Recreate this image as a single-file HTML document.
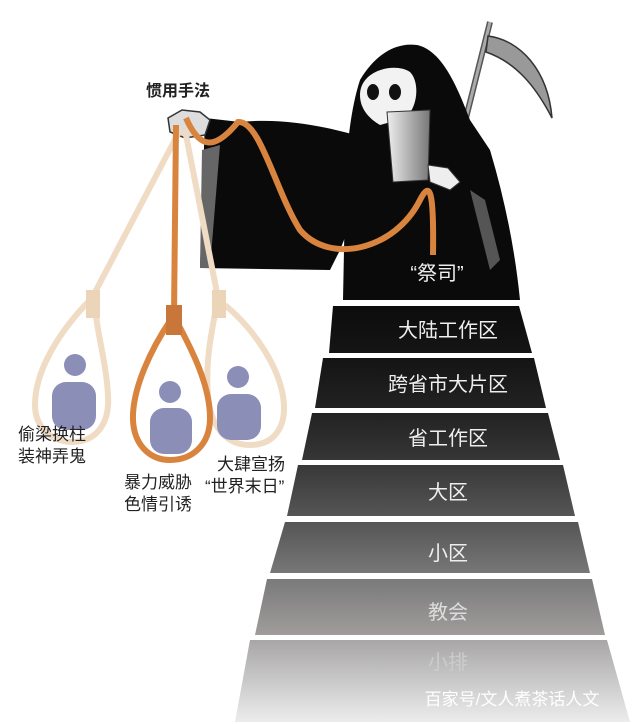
<!DOCTYPE html>
<html><head><meta charset="utf-8"><style>
html,body{margin:0;padding:0;background:#fff;}
body{width:640px;height:724px;overflow:hidden;position:relative;font-family:"Liberation Sans","Noto Sans CJK SC",sans-serif;}
</style></head><body>
<svg width="640" height="724" viewBox="0 0 640 724" xmlns="http://www.w3.org/2000/svg" style="position:absolute;left:0;top:0">
<defs>
<linearGradient id="g2" x1="0" y1="0" x2="0" y2="1"><stop offset="0" stop-color="#0c0c0c"/><stop offset="1" stop-color="#151515"/></linearGradient>
<linearGradient id="g3" x1="0" y1="0" x2="0" y2="1"><stop offset="0" stop-color="#141414"/><stop offset="1" stop-color="#222"/></linearGradient>
<linearGradient id="g4" x1="0" y1="0" x2="0" y2="1"><stop offset="0" stop-color="#222"/><stop offset="1" stop-color="#363636"/></linearGradient>
<linearGradient id="g5" x1="0" y1="0" x2="0" y2="1"><stop offset="0" stop-color="#383838"/><stop offset="1" stop-color="#555"/></linearGradient>
<linearGradient id="g6" x1="0" y1="0" x2="0" y2="1"><stop offset="0" stop-color="#555"/><stop offset="1" stop-color="#777"/></linearGradient>
<linearGradient id="g7" x1="0" y1="0" x2="0" y2="1"><stop offset="0" stop-color="#7a7a7a"/><stop offset="1" stop-color="#a09c9c"/></linearGradient>
<linearGradient id="g8" x1="0" y1="0" x2="0" y2="1"><stop offset="0" stop-color="#a8a6a6"/><stop offset="1" stop-color="#ececec"/></linearGradient>
<linearGradient id="book" x1="0" y1="0" x2="1" y2="0"><stop offset="0" stop-color="#eee"/><stop offset="1" stop-color="#777"/></linearGradient>
</defs>
<!-- pyramid -->
<polygon points="333,306 519,306 532,353 329,353" fill="url(#g2)"/>
<polygon points="323,358 534,358 546,408 315,408" fill="url(#g3)"/>
<polygon points="312,413 548,413 560,460 302,460" fill="url(#g4)"/>
<polygon points="298,465 563,465 575,516 287,516" fill="url(#g5)"/>
<polygon points="285,522 578,522 590,573 270,573" fill="url(#g6)"/>
<polygon points="267,579 592,579 605,635 255,635" fill="url(#g7)"/>
<polygon points="250,640 607,640 630,722 235,722" fill="url(#g8)"/>
<!-- scythe -->
<line x1="490" y1="22" x2="458" y2="150" stroke="#555" stroke-width="6"/>
<line x1="490" y1="22" x2="458" y2="150" stroke="#aaa" stroke-width="3"/>
<path d="M488,36 C520,40 548,70 552,118 C535,85 515,62 486,52 Z" fill="#999" stroke="#333" stroke-width="1.5"/>
<!-- cloak -->
<path d="M360,80 C375,55 395,42 417,45 C440,50 455,80 470,120 L490,150 C505,200 515,250 520,300 L343,300 L345,200 C345,160 350,110 360,80 Z" fill="#0a0a0a"/>
<path d="M205,118 L240,122 C280,118 320,125 355,135 L360,200 L340,250 L330,270 L200,268 Z" fill="#0a0a0a"/>
<path d="M202,150 L220,145 L210,268 L200,268 Z" fill="#666"/>
<path d="M470,190 L485,200 L500,260 L490,270 Z" fill="#555"/>
<!-- skull -->
<path d="M360,95 C360,70 395,62 410,72 C420,82 418,108 405,118 L380,125 C368,118 360,108 360,95 Z" fill="#f2f2f2"/>
<ellipse cx="373" cy="92" rx="6" ry="8" fill="#111"/>
<ellipse cx="395" cy="92" rx="6" ry="8" fill="#111"/>
<!-- book -->
<path d="M387,112 L430,110 L428,180 L393,182 Z" fill="url(#book)" stroke="#333" stroke-width="1"/>
<!-- hands -->
<path d="M168,118 L182,110 L200,112 L210,120 L205,135 L185,138 L170,132 Z" fill="#ddd" stroke="#333" stroke-width="1.5"/>
<path d="M428,165 L448,168 L460,182 L450,190 L430,182 Z" fill="#eee" stroke="#333" stroke-width="1"/>
<!-- light ropes -->
<path d="M180,130 L92,298" stroke="#f0dcc5" stroke-width="6" fill="none"/>
<path d="M185,130 L218,298" stroke="#f0dcc5" stroke-width="6" fill="none"/>
<!-- nooses -->
<path d="M92,298 C60,330 35,370 35,405 C35,430 55,442 72,442 C95,442 110,425 108,395 C106,360 96,330 95,305 Z" fill="none" stroke="#f0dcc5" stroke-width="6"/>
<path d="M218,298 C212,330 205,360 208,395 C210,425 225,445 250,445 C272,445 285,430 284,405 C282,370 255,330 225,305" fill="none" stroke="#f0dcc5" stroke-width="6"/>
<path d="M176,125 L174,315" stroke="#d9843e" stroke-width="6" fill="none"/>
<path d="M172,318 C150,350 132,390 133,420 C134,445 150,460 170,460 C192,460 210,445 210,418 C210,385 192,350 176,320 Z" fill="none" stroke="#d9843e" stroke-width="6"/>
<rect x="166" y="305" width="16" height="30" fill="#c8763a"/>
<rect x="86" y="290" width="14" height="28" fill="#ecd4b8"/>
<rect x="212" y="290" width="14" height="28" fill="#ecd4b8"/>
<!-- orange main rope -->
<path d="M186,118 C200,150 215,150 238,122 C260,120 275,190 300,230 C330,265 395,250 420,200 C430,180 434,190 433,255" stroke="#d9843e" stroke-width="6" fill="none"/>
<!-- figures -->
<g fill="#8b8fb8">
<circle cx="75" cy="365" r="11"/><rect x="52" y="382" width="44" height="48" rx="14"/>
<circle cx="170" cy="392" r="11"/><rect x="150" y="408" width="42" height="46" rx="14"/>
<circle cx="238" cy="377" r="11"/><rect x="217" y="394" width="44" height="46" rx="14"/>
</g>
<g fill="#eee" font-size="20" text-anchor="middle" font-family="Liberation Sans,Noto Sans CJK SC,sans-serif">
<text x="448" y="337">大陆工作区</text>
<text x="448" y="391">跨省市大片区</text>
<text x="448" y="445">省工作区</text>
<text x="448" y="499">大区</text>
<text x="448" y="560">小区</text>
<text x="448" y="619" fill="#ddd">教会</text>
<text x="448" y="669" fill="#ccc">小排</text>
<text x="437" y="280" fill="#eee">“祭司”</text>
<text x="512" y="705" font-size="17" fill="#fff">百家号/文人煮茶话人文</text>
</g>
<g fill="#222" font-size="17" font-family="Liberation Sans,Noto Sans CJK SC,sans-serif">
<text x="146" y="96" font-weight="bold" font-size="16">惯用手法</text>
<text x="18" y="440">偷梁换柱</text><text x="18" y="462">装神弄鬼</text>
<text x="124" y="488">暴力威胁</text><text x="124" y="510">色情引诱</text>
<text x="217" y="470">大肆宣扬</text><text x="205" y="492">“世界末日”</text>
</g>
</svg>
</body></html>
